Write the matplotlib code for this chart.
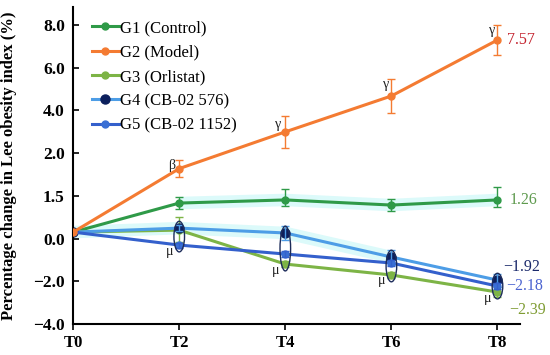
import numpy as np
import matplotlib.pyplot as plt
from matplotlib.patches import Ellipse

plt.rcParams['font.family'] = ['Liberation Serif', 'DejaVu Serif']

times = [0, 2, 4, 6, 8]
xlabels = ['T0', 'T2', 'T4', 'T6', 'T8']
ytick_vals = [-4.0, -2.0, 0.0, 1.5, 2.0, 4.0, 6.0, 8.0]

names = ['G1 (Control)', 'G2 (Model)', 'G3 (Orlistat)', 'G4 (CB-02 576)', 'G5 (CB-02 1152)']
g1 = [0.23, 1.25, 1.36, 1.18, 1.36]
g2 = [0.23, 1.82, 3.0, 4.68, 7.30]
g3 = [0.23, 0.30, -1.19, -1.70, -2.50]
g4 = [0.23, 0.37, 0.20, -0.86, -1.94]
g5 = [0.23, -0.30, -0.72, -1.14, -2.22]
g1_err = [0, 0.2, 0.22, 0.2, 0.25]
g2_err = [0, 0.1, 0.75, 0.8, 0.7]
g3_err = [0, 0.45, 0.15, 0.15, 0.22]
g4_err = [0, 0.1, 0.25, 0.35, 0.3]
g5_err = [0, 0.12, 0.15, 0.15, 0.15]

g2_sig = ['', 'β', 'γ', 'γ', 'γ']
group_sig = ['', 'μ', 'μ', 'μ', 'μ']
end_labels = ['1.26', '7.57', '−2.39', '−1.92', '−2.18']

line_colors = ['#2f9a48', '#f47b32', '#7db446', '#4d9de6', '#3460cc']
marker_colors = ['#2f9a48', '#f47b32', '#7db446', '#0c1f5c', '#3a6fd4']
label_colors = ['#5e9a4e', '#c4232e', '#7f9c33', '#1b2a6b', '#4b63d0']
series = [g1, g2, g3, g4, g5]
errs = [g1_err, g2_err, g3_err, g4_err, g5_err]

# uneven y axis: every tick is the same distance apart
vals_ext = np.array([-6.0] + ytick_vals + [10.0])
pos_ext = np.arange(-1, len(ytick_vals) + 1, dtype=float)


def fwd(v):
    return np.interp(v, vals_ext, pos_ext)


def inv(p):
    return np.interp(p, pos_ext, vals_ext)


fig = plt.figure(figsize=(5.5, 3.55), dpi=100)
ax = fig.add_axes([0.133, 0.087, 0.812, 0.893])
ax.set_yscale('function', functions=(fwd, inv))

# faint cyan glow behind some lines
ax.plot(times[1:], g1[1:], color='#dcfafa', lw=9, zorder=0, solid_capstyle='butt')
ax.plot(times[:4], g4[:4], color='#dcfafa', lw=9, zorder=0, solid_capstyle='butt')

for i in range(5):
    ax.plot(times, series[i], color=line_colors[i], lw=2.2, zorder=2 + (i == 1),
            marker='o', ms=5 if i != 3 else 6.5, mfc=marker_colors[i], mec=marker_colors[i],
            label=names[i])
    ax.errorbar(times[1:], series[i][1:], yerr=errs[i][1:], fmt='none',
                ecolor=line_colors[i], elinewidth=1, capsize=3, capthick=1, zorder=2)

# ellipses around G3-G5 at each time point (drawn in scaled space)
for j in range(1, 5):
    vals = [g3[j], g4[j], g5[j]]
    lo, hi = fwd(min(vals)), fwd(max(vals))
    e = Ellipse((times[j], (lo + hi) / 2), width=0.2, height=(hi - lo) + 0.32,
                transform=ax.transLimits + ax.transAxes,
                fill=False, ec='#1d2c5a', lw=1, zorder=4)
    ax.add_patch(e)
    ax.annotate(group_sig[j], (times[j], min(vals)), xytext=(-6, -6),
                textcoords='offset pixels', ha='right', va='center', fontsize=10, color='#222222')

sig_offsets = [(0, 0), (-4, 3), (-4, 7), (-2, 11), (-2, 9)]
for j in range(1, 5):
    ax.annotate(g2_sig[j], (times[j], g2[j]), xytext=sig_offsets[j],
                textcoords='offset pixels', ha='right', va='center', fontsize=10, color='#222222')

label_offsets = [(12, 0), (10, 0), (12, -18), (6, 13), (9, 0)]
for i in range(5):
    ax.annotate(end_labels[i], (times[-1], series[i][-1]), xytext=label_offsets[i],
                textcoords='offset pixels', ha='left', va='center', fontsize=11.5,
                color=label_colors[i])

ax.set_xlim(0, 8.42)
ax.set_ylim(-4, 8.84)
ax.set_xticks(times)
ax.set_xticklabels(xlabels, fontweight='bold', fontsize=12)
ax.set_yticks(ytick_vals)
ax.set_yticklabels(['%.1f' % v if v >= 0 else '−%.1f' % -v for v in ytick_vals],
                   fontweight='bold', fontsize=12.5)
ax.minorticks_off()
ax.tick_params(axis='y', direction='in', length=4, width=1.2, pad=6)
ax.tick_params(axis='x', direction='out', length=4, width=1.2, pad=4)
for s in ['top', 'right']:
    ax.spines[s].set_visible(False)
for s in ['left', 'bottom']:
    ax.spines[s].set_linewidth(1.5)

ax.set_ylabel('Percentage change in Lee obesity index (%)', fontweight='bold', fontsize=12,
              labelpad=1)
ax.yaxis.set_label_coords(-0.125, 0.5)

ax.legend(loc='upper left', bbox_to_anchor=(0.02, 0.99), frameon=False, fontsize=12,
          handlelength=1.6, handletextpad=0.1, labelspacing=0.5, borderaxespad=0.2)

fig.savefig('out.png', dpi=100)
